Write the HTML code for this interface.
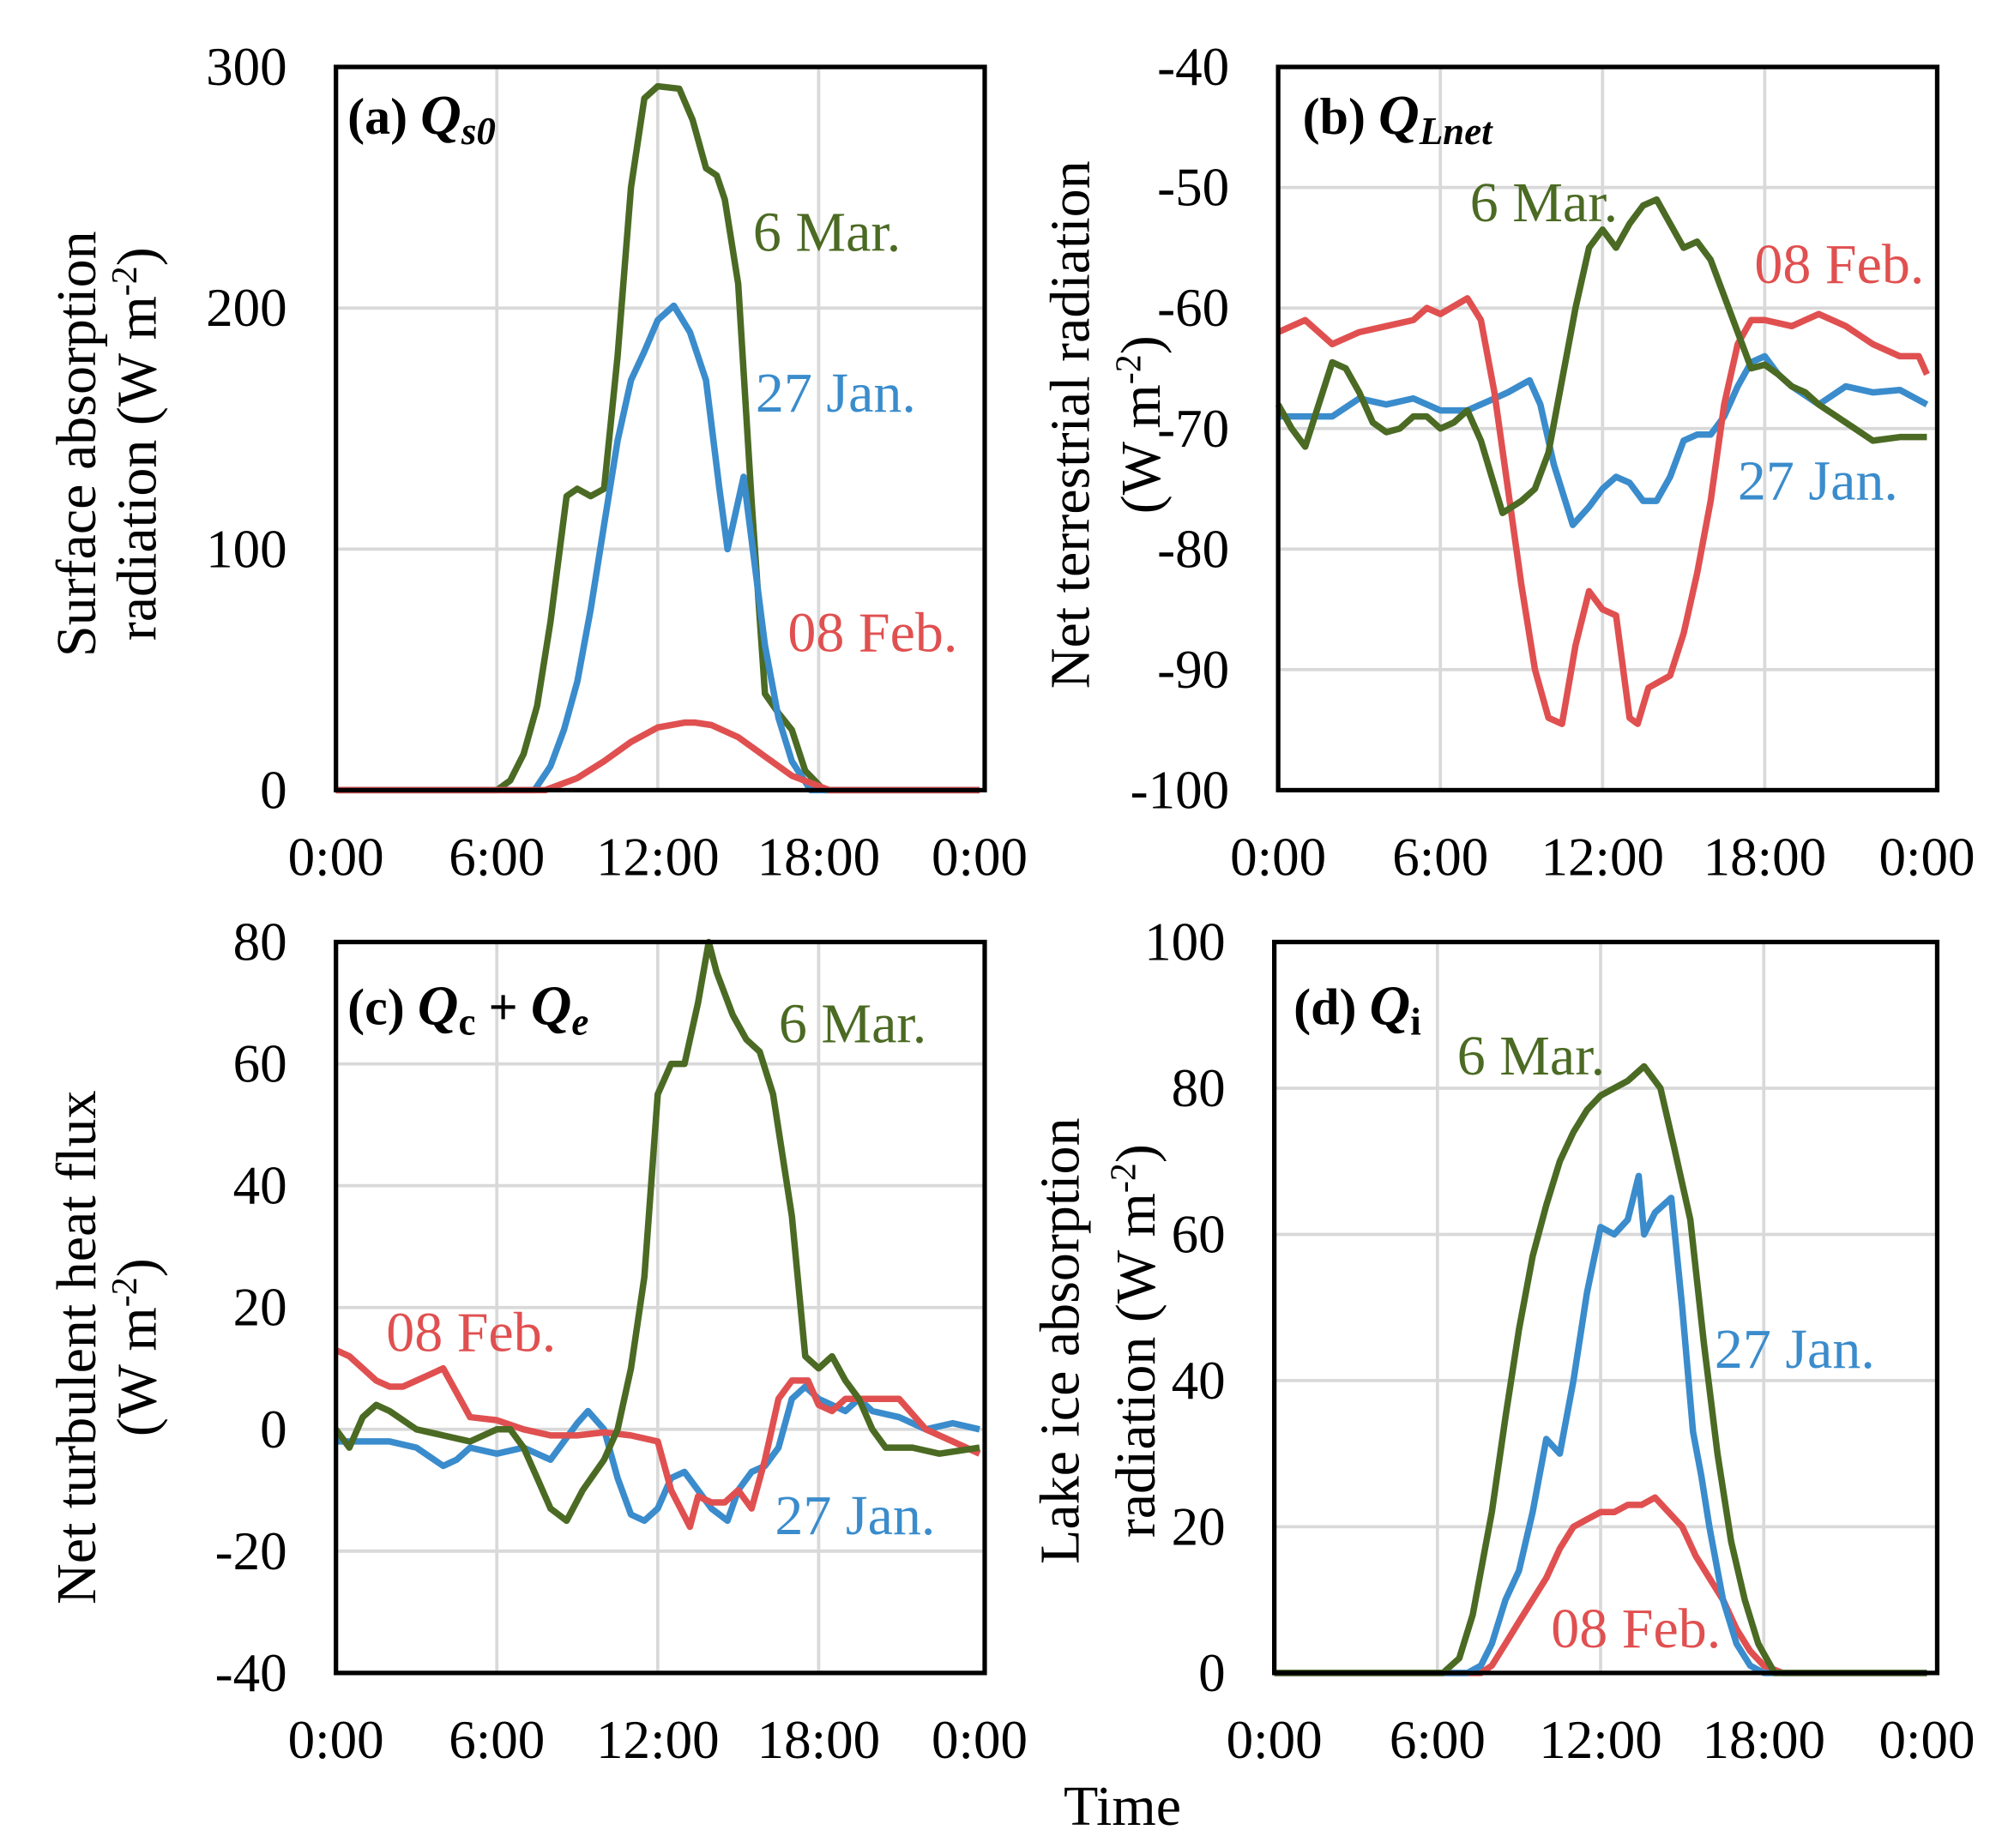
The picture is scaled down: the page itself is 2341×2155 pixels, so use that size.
<!DOCTYPE html>
<html><head><meta charset="utf-8"><style>
html,body{margin:0;padding:0;background:#fff;}
svg{display:block;font-family:"Liberation Serif",serif;}
</style></head><body>
<svg id="chart" width="2341" height="2155" viewBox="0 0 1560 1436" xmlns="http://www.w3.org/2000/svg">
<rect x="0" y="0" width="1560" height="1436" fill="#fff"/>
</svg>
<script>
const timeTicks = ["0:00","6:00","12:00","18:00","0:00"];
const tickHours = [0,6,12,18,24];
// Panel a
const aGreenT=[0,6,6.5,7,7.5,8,8.6,9,9.5,10,10.5,11,11.5,12,12.8,13.3,13.8,14.2,14.5,15,15.5,16,16.5,17,17.5,18.2,24];
const aGreenV=[0,0,4,15,35,70,122,125,122,125,180,250,287,292,291,278,258,255,245,210,120,40,32,25,8,0,0];
const aBlueT=[0,7.4,8,8.5,9,9.5,10,10.5,11,11.5,12,12.6,13.2,13.8,14.3,14.6,15.2,15.6,16,16.5,17,17.7,24];
const aBlueV=[0,0,10,25,45,75,110,145,170,182,195,201,190,170,125,100,130,95,60,30,12,0,0];
const aRedT=[0,7.8,9,10,11,12,13,13.4,14,15,16,17,18.4,24];
const aRedV=[0,0,5,12,20,26,28,28,27,22,14,6,0,0];
// Panel b
const bGreenT=[0,0.5,1,1.5,2,2.5,3,3.5,4,4.5,5,5.5,6,6.5,7,7.5,8.3,9,9.5,10,10.5,11,11.5,12,12.5,13,13.5,14,14.5,15,15.5,16,16.5,17,17.5,18,18.5,19,19.5,20,21,22,23,24];
const bGreenV=[-68,-70,-71.5,-68,-64.5,-65,-67,-69.5,-70.3,-70,-69,-69,-70,-69.5,-68.5,-71,-77,-76,-75,-72,-66,-60,-55,-53.5,-55,-53,-51.5,-51,-53,-55,-54.5,-56,-59,-62,-65,-64.7,-65.5,-66.5,-67,-68,-69.5,-71,-70.7,-70.7];
const bBlueT=[0,1,2,3,4,5,6,7,8,8.5,9.3,9.7,10.2,10.9,11.5,12,12.5,13,13.5,14,14.5,15,15.5,16,16.5,17,17.5,18,18.5,19,20,21,22,23,24];
const bBlueV=[-69,-69,-69,-67.5,-68,-67.5,-68.5,-68.5,-67.5,-67,-66,-68,-73,-78,-76.5,-75,-74,-74.5,-76,-76,-74,-71,-70.5,-70.5,-69,-66.5,-64.5,-64,-65.5,-66.5,-68,-66.5,-67,-66.8,-68];
const bRedT=[0,1,2,3,4,5,5.5,6,7,7.5,8,8.5,9,9.5,10,10.5,11,11.5,12,12.5,13,13.3,13.7,14.5,15,15.5,16,16.5,17,17.5,18,19,20,21,22,23,23.7,24];
const bRedV=[-62,-61,-63,-62,-61.5,-61,-60,-60.5,-59.2,-61,-67,-75,-83,-90,-94,-94.5,-88,-83.5,-85,-85.5,-94,-94.5,-91.5,-90.5,-87,-82,-76,-68,-63,-61,-61,-61.5,-60.5,-61.5,-63,-64,-64,-65.5];
// Panel c
const cGreenT=[0,0.5,1,1.5,2,3,4,5,6,6.5,7,7.5,8,8.6,9.2,10,10.5,11,11.5,12,12.5,13,13.5,13.9,14.2,14.8,15.3,15.8,16.3,17,17.5,18,18.5,19,19.5,20,20.5,21.5,22.5,24];
const cGreenV=[0,-3,2,4,3,0,-1,-2,0,0,-3,-8,-13,-15,-10,-5,0,10,25,55,60,60,70,80,75,68,64,62,55,35,12,10,12,8,5,0,-3,-3,-4,-3];
const cBlueT=[0,1,2,3,4,4.5,5,6,7,8,8.5,9,9.4,10,10.5,11,11.5,12,12.5,13,13.5,14,14.6,15,15.5,16,16.5,17,17.5,18,19,19.5,20,21,22,23,24];
const cBlueV=[-2,-2,-2,-3,-6,-5,-3,-4,-3,-5,-2,1,3,0,-8,-14,-15,-13,-8,-7,-10,-13,-15,-10,-7,-6,-3,5,7,5,3,5,3,2,0,1,0];
const cRedT=[0,0.5,1,1.5,2,2.5,3,3.5,4,4.5,5,6,7,8,9,10,11,12,12.5,13.2,13.5,14,14.5,15,15.5,16,16.5,17,17.6,18,18.5,19,20,21,22,23,24];
const cRedV=[13,12,10,8,7,7,8,9,10,6,2,1.5,0,-1,-1,-0.5,-1,-2,-10,-16,-11,-12,-12,-10,-13,-5,5,8,8,4,3,5,5,5,0,-2,-4];
// Panel d
const dGreenT=[0,6.2,6.8,7.3,8,8.5,9,9.5,10,10.5,11,11.5,12,12.5,13,13.6,14.2,14.7,15.3,15.8,16.3,16.8,17.3,17.8,18.4,24];
const dGreenV=[0,0,2,8,22,35,47,57,64,70,74,77,79,80,81,83,80,72,62,45,30,18,10,4,0,0];
const dBlueT=[0,7.1,7.6,8,8.5,9,9.5,10,10.5,11,11.5,12,12.5,13,13.4,13.6,14,14.6,15,15.4,15.7,16,16.5,17,17.5,18,24];
const dBlueV=[0,0,1,4,10,14,22,32,30,40,52,61,60,62,68,60,63,65,50,33,27,20,10,4,1,0,0];
const dRedT=[0,7.6,8,8.5,9,9.5,10,10.5,11,11.5,12,12.5,13,13.5,14,14.5,15,15.5,16,16.5,17,17.5,18,18.7,24];
const dRedV=[0,0,1,4,7,10,13,17,20,21,22,22,23,23,24,22,20,16,13,10,6,3,1,0,0];

const GREEN="#4b6a23", BLUE="#3a8ccc", RED="#e05050";
const NS="http://www.w3.org/2000/svg";
const svg=document.getElementById('chart');
function mk(tag,attrs,parent){const e=document.createElementNS(NS,tag);for(const k in attrs)e.setAttribute(k,attrs[k]);(parent||svg).appendChild(e);return e;}

const panels=[
 {id:'a',x0:261,x1:761,right:765,top:52,bot:614,ymin:0,ymax:300,yticks:[0,100,200,300],
  series:[[aGreenT,aGreenV,GREEN,'6-mar'],[aBlueT,aBlueV,BLUE,'27-jan'],[aRedT,aRedV,RED,'08-feb']]},
 {id:'b',x0:993,x1:1497,right:1505,top:52,bot:614,ymin:-100,ymax:-40,yticks:[-100,-90,-80,-70,-60,-50,-40],
  series:[[bBlueT,bBlueV,BLUE,'27-jan'],[bRedT,bRedV,RED,'08-feb'],[bGreenT,bGreenV,GREEN,'6-mar']]},
 {id:'c',x0:261,x1:761,right:765,top:732,bot:1300,ymin:-40,ymax:80,yticks:[-40,-20,0,20,40,60,80],
  series:[[cBlueT,cBlueV,BLUE,'27-jan'],[cRedT,cRedV,RED,'08-feb'],[cGreenT,cGreenV,GREEN,'6-mar']]},
 {id:'d',x0:990,x1:1497,right:1505,top:732,bot:1300,ymin:0,ymax:100,yticks:[0,20,40,60,80,100],
  series:[[dRedT,dRedV,RED,'08-feb'],[dBlueT,dBlueV,BLUE,'27-jan'],[dGreenT,dGreenV,GREEN,'6-mar']]}
];

panels.forEach(p=>{
  const g=mk('g',{});
  
  
  const X=h=>p.x0+(p.x1-p.x0)*h/24;
  const Y=v=>p.bot-(p.bot-p.top)*(v-p.ymin)/(p.ymax-p.ymin);
  tickHours.forEach((h,i)=>{
    if(i>0&&i<4){const l=mk('line',{x1:X(h),x2:X(h),y1:p.top,y2:p.bot,stroke:'#d9d9d9','stroke-width':2.5},g);
    
    }
    const t=mk('text',{x:X(h),y:p.bot+66,'font-size':42,'text-anchor':'middle'},g);
    t.textContent=timeTicks[i];
    
    
  });
  p.yticks.forEach((v,i)=>{
    if(i>0&&i<p.yticks.length-1){const l=mk('line',{x1:p.x0,x2:p.right,y1:Y(v),y2:Y(v),stroke:'#d9d9d9','stroke-width':2.5},g);
    
    }
    const t=mk('text',{x:p.x0-38,y:Y(v)+14,'font-size':42,'text-anchor':'end'},g);
    t.textContent=v;
    
    
  });
  p.series.forEach(s=>{
    const [T,V,col,nm]=s;
    const d=T.map((t,i)=>(i?'L':'M')+X(t).toFixed(1)+','+Y(V[i]).toFixed(1)).join(' ');
    const path=mk('path',{d:d,fill:'none',stroke:col,'stroke-width':5,'stroke-linejoin':'round'},g);
    
    
  });
  const fr=mk('rect',{x:p.x0,y:p.top,width:p.right-p.x0,height:p.bot-p.top,fill:'none',stroke:'#000','stroke-width':3.5},g);
  
  
});
</script>
<svg style="position:absolute;left:0;top:0" width="2341" height="2155" viewBox="0 0 1560 1436" xmlns="http://www.w3.org/2000/svg" font-family="Liberation Serif, serif">
<g font-size="40" font-weight="bold">
<text x="270" y="104">(a) <tspan font-style="italic" font-size="44">Q</tspan><tspan font-style="italic" font-size="30" dy="8">s0</tspan></text>
<text x="1012" y="104">(b) <tspan font-style="italic" font-size="44">Q</tspan><tspan font-style="italic" font-size="30" dy="8">Lnet</tspan></text>
<text x="270" y="796">(c) <tspan font-style="italic" font-size="44">Q</tspan><tspan font-size="30" dy="8">c</tspan><tspan dy="-8"> + </tspan><tspan font-style="italic" font-size="44">Q</tspan><tspan font-style="italic" font-size="30" dy="8">e</tspan></text>
<text x="1005" y="796">(d) <tspan font-style="italic" font-size="44">Q</tspan><tspan font-size="30" dy="8">i</tspan></text>
</g>
<g font-size="44">
<text x="585" y="195" fill="#4b6a23">6 Mar.</text>
<text x="587" y="320" fill="#3a8ccc">27 Jan.</text>
<text x="612" y="506" fill="#e05050">08 Feb.</text>
<text x="1142" y="172" fill="#4b6a23">6 Mar.</text>
<text x="1363" y="220" fill="#e05050">08 Feb.</text>
<text x="1350" y="388" fill="#3a8ccc">27 Jan.</text>
<text x="605" y="810" fill="#4b6a23">6 Mar.</text>
<text x="300" y="1050" fill="#e05050">08 Feb.</text>
<text x="602" y="1192" fill="#3a8ccc">27 Jan.</text>
<text x="1132" y="835" fill="#4b6a23">6 Mar.</text>
<text x="1332" y="1063" fill="#3a8ccc">27 Jan.</text>
<text x="1205" y="1280" fill="#e05050">08 Feb.</text>
</g>
<g font-size="44" text-anchor="middle">
<text transform="translate(74,345) rotate(-90)">Surface absorption</text>
<text transform="translate(121,345) rotate(-90)">radiation  (W m<tspan font-size="28" dy="-15">-2</tspan><tspan dy="15">)</tspan></text>
<text transform="translate(846,330) rotate(-90)">Net terrestrial radiation</text>
<text transform="translate(901,330) rotate(-90)">(W m<tspan font-size="28" dy="-15">-2</tspan><tspan dy="15">)</tspan></text>
<text transform="translate(74,1047) rotate(-90)">Net turbulent heat flux</text>
<text transform="translate(121,1047) rotate(-90)">(W m<tspan font-size="28" dy="-15">-2</tspan><tspan dy="15">)</tspan></text>
<text transform="translate(838,1042) rotate(-90)">Lake ice absorption</text>
<text transform="translate(897,1042) rotate(-90)">radiation (W m<tspan font-size="28" dy="-15">-2</tspan><tspan dy="15">)</tspan></text>
<text x="872" y="1418">Time</text>
</g>
</svg>
</body></html>
